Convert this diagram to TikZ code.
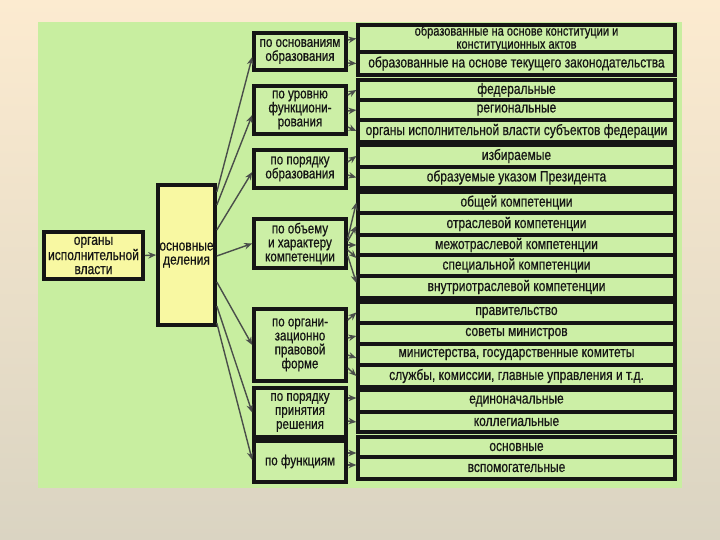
\documentclass[tikz,border=0pt]{standalone}
\usepackage{fontspec}
\setmainfont{Liberation Sans}[FakeStretch=0.8,FakeBold=0.6]
\usetikzlibrary{arrows.meta}
\definecolor{pagetop}{HTML}{FCEBD0}
\definecolor{pagebot}{HTML}{DAD4C2}
\definecolor{panel}{HTML}{C8EEA0}
\definecolor{boxgreen}{HTML}{CCEFA6}
\definecolor{boxyellow}{HTML}{F8F8A2}
\definecolor{arrowgray}{HTML}{4A4E4A}
\definecolor{ink}{HTML}{151515}
\begin{document}
\begin{tikzpicture}[x=1pt,y=-1pt,
  txt/.style={font=\fontsize{15}{13}\selectfont, text=ink, align=center, inner sep=0pt},
  rowbox/.style={txt, draw=ink, line width=3.2pt, fill=boxgreen, minimum width=317pt},
  catbox/.style={txt, font=\fontsize{14.5}{14}\selectfont, draw=ink, line width=3.6pt, fill=boxgreen, minimum width=92pt},
  ybox/.style={txt, draw=ink, line width=3.6pt, fill=boxyellow},
  arr/.style={draw=arrowgray, line width=1.4pt, -{Stealth[length=8pt,width=6.5pt]}}
]
\fill[top color=pagetop, bottom color=pagebot] (0,0) rectangle (720,540);
\useasboundingbox (0,0) rectangle (720,540);
\fill[panel] (38,22) rectangle (682,488);

% left boxes
\node[ybox, minimum width=99pt, minimum height=47pt, font=\fontsize{15}{14}\selectfont] (org) at (93.5,255.5) {органы\\исполнительной\\власти};
\node[ybox, minimum width=57pt, minimum height=140pt, font=\fontsize{15}{14}\selectfont] (main) at (186.5,255) {основные\\деления};
\draw[arr] (org.east) -- (main.west);

% categories
\node[catbox, minimum height=37pt] (c1) at (300,51.5) {по основаниям\\образования};
\node[catbox, minimum height=48pt] (c2) at (300,110) {по уровню\\функциони-\\рования};
\node[catbox, minimum height=38pt] (c3) at (300,169) {по порядку\\образования};
\node[catbox, minimum height=49pt] (c4) at (300,243.5) {по объему\\и характеру\\компетенции};
\node[catbox, minimum height=72pt] (c5) at (300,345) {по органи-\\зационно\\правовой\\форме};
\node[catbox, minimum height=49pt] (c6) at (300,412.5) {по порядку\\принятия\\решения};
\node[catbox, minimum height=41pt] (c7) at (300,461.5) {по функциям};

% rows
\node[rowbox, minimum height=27pt, font=\fontsize{13.8}{13}\selectfont] (r11) at (516.5,38.5) {образованные на основе конституции и\\конституционных актов};
\node[rowbox, minimum height=23pt] (r12) at (516.5,63.5) {образованные на основе текущего законодательства};
\node[rowbox, minimum height=20pt] (r21) at (516.5,90) {федеральные};
\node[rowbox, minimum height=20pt] (r22) at (516.5,110) {региональные};
\node[rowbox, minimum height=22pt] (r23) at (516.5,131) {органы исполнительной власти субъектов федерации};
\node[rowbox, minimum height=22pt] (r31) at (516.5,156) {избираемые};
\node[rowbox, minimum height=21pt] (r32) at (516.5,177.5) {образуемые указом Президента};
\node[rowbox, minimum height=21pt] (r41) at (516.5,202.5) {общей компетенции};
\node[rowbox, minimum height=22pt] (r42) at (516.5,224) {отраслевой компетенции};
\node[rowbox, minimum height=20pt] (r43) at (516.5,245) {межотраслевой компетенции};
\node[rowbox, minimum height=21pt] (r44) at (516.5,265.5) {специальной компетенции};
\node[rowbox, minimum height=22pt] (r45) at (516.5,287) {внутриотраслевой компетенции};
\node[rowbox, minimum height=21pt] (r51) at (516.5,312.5) {правительство};
\node[rowbox, minimum height=21pt] (r52) at (516.5,333.5) {советы министров};
\node[rowbox, minimum height=21pt] (r53) at (516.5,354.5) {министерства, государственные комитеты};
\node[rowbox, minimum height=22pt] (r54) at (516.5,376) {службы, комиссии, главные управления и т.д.};
\node[rowbox, minimum height=22pt] (r61) at (516.5,401) {единоначальные};
\node[rowbox, minimum height=20pt] (r62) at (516.5,422) {коллегиальные};
\node[rowbox, minimum height=20pt] (r71) at (516.5,447) {основные};
\node[rowbox, minimum height=22pt] (r72) at (516.5,468) {вспомогательные};

% main -> categories
\draw[arr] ([yshift=63pt]main.east) -- ([yshift=-5.5pt]c1.west);
\draw[arr] ([yshift=50pt]main.east) -- ([yshift=-5pt]c2.west);
\draw[arr] ([yshift=25pt]main.east) -- ([yshift=-3pt]c3.west);
\draw[arr] ([yshift=-1pt]main.east) -- (c4.west);
\draw[arr] ([yshift=-27pt]main.east) -- (c5.west);
\draw[arr] ([yshift=-51pt]main.east) -- (c6.west);
\draw[arr] ([yshift=-68pt]main.east) -- ([yshift=1.5pt]c7.west);

% categories -> rows
\draw[arr] ([yshift=11.5pt]c1.east) -- (r11.west);
\draw[arr] ([yshift=-11.5pt]c1.east) -- (r12.west);
\draw[arr] ([yshift=15pt]c2.east) -- (r21.west);
\draw[arr] ([yshift=-1pt]c2.east) -- (r22.west);
\draw[arr] ([yshift=-17pt]c2.east) -- (r23.west);
\draw[arr] ([yshift=7pt]c3.east) -- (r31.west);
\draw[arr] ([yshift=-6pt]c3.east) -- (r32.west);
\draw[arr] ([yshift=5.5pt]c4.east) -- (r41.west);
\draw[arr] ([yshift=2.5pt]c4.east) -- ([yshift=-2pt]r42.west);
\draw[arr] ([yshift=-1.5pt]c4.east) -- (r43.west);
\draw[arr] ([yshift=-6.5pt]c4.east) -- ([yshift=7.5pt]r44.west);
\draw[arr] ([yshift=-12.5pt]c4.east) -- ([yshift=4pt]r45.west);
\draw[arr] ([yshift=25pt]c5.east) -- (r51.west);
\draw[arr] ([yshift=7pt]c5.east) -- ([yshift=-2.5pt]r52.west);
\draw[arr] ([yshift=-10pt]c5.east) -- ([yshift=-3.5pt]r53.west);
\draw[arr] ([yshift=-23pt]c5.east) -- (r54.west);
\draw[arr] ([yshift=14.5pt]c6.east) -- ([yshift=3pt]r61.west);
\draw[arr] ([yshift=-8.5pt]c6.east) -- (r62.west);
\draw[arr] ([yshift=8.5pt]c7.east) -- ([yshift=-6pt]r71.west);
\draw[arr] ([yshift=-3.5pt]c7.east) -- ([yshift=3pt]r72.west);
\end{tikzpicture}
\end{document}
